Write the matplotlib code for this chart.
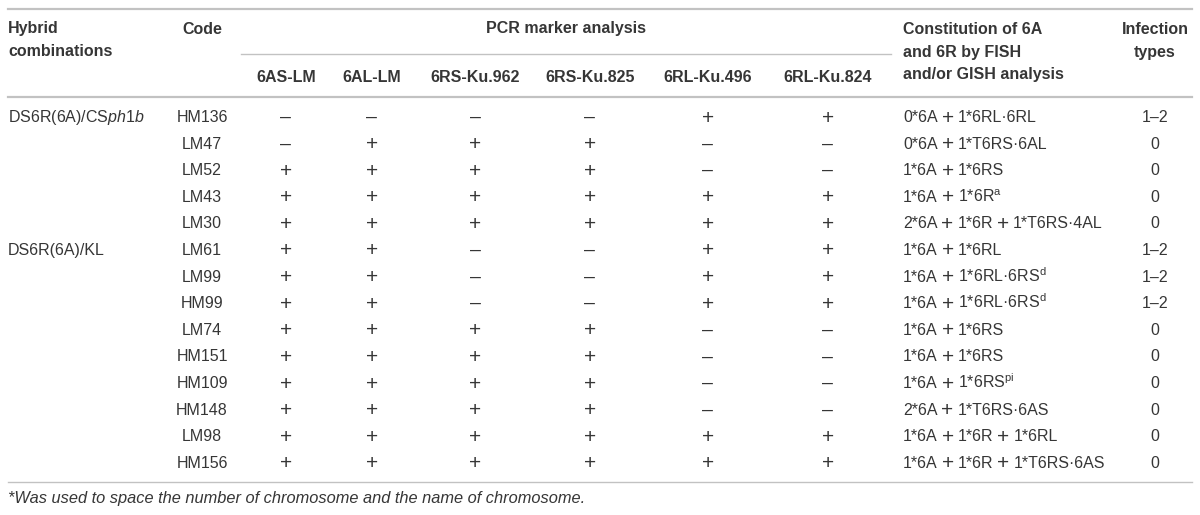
import matplotlib
matplotlib.use("Agg")
import matplotlib.pyplot as plt

plt.rcParams['font.family'] = ['Liberation Sans', 'DejaVu Sans']
plt.rcParams['mathtext.fontset'] = 'custom'
plt.rcParams['mathtext.rm'] = 'Liberation Sans'
plt.rcParams['mathtext.it'] = 'Liberation Sans:italic'

# table contents
markers = ["6AS-LM", "6AL-LM", "6RS-Ku.962", "6RS-Ku.825", "6RL-Ku.496", "6RL-Ku.824"]
combos = {0: "DS6R(6A)/CS$\\mathit{ph1b}$", 5: "DS6R(6A)/KL"}
codes = ["HM136", "LM47", "LM52", "LM43", "LM30", "LM61", "LM99", "HM99",
         "LM74", "HM151", "HM109", "HM148", "LM98", "HM156"]
pcr = ["----++", "-+++--", "++++--", "++++++", "++++++", "++--++", "++--++",
       "++--++", "++++--", "++++--", "++++--", "++++--", "++++++", "++++++"]
constitution = ["0*6A + 1*6RL\u00b76RL", "0*6A + 1*T6RS\u00b76AL", "1*6A + 1*6RS",
                "1*6A + 1*6R$^{\\mathrm{a}}$", "2*6A + 1*6R + 1*T6RS\u00b74AL",
                "1*6A + 1*6RL", "1*6A + 1*6RL\u00b76RS$^{\\mathrm{d}}$",
                "1*6A + 1*6RL\u00b76RS$^{\\mathrm{d}}$", "1*6A + 1*6RS", "1*6A + 1*6RS",
                "1*6A + 1*6RS$^{\\mathrm{pi}}$", "2*6A + 1*T6RS\u00b76AS",
                "1*6A + 1*6R + 1*6RL", "1*6A + 1*6R + 1*T6RS\u00b76AS"]
infection = ["1\u20132", "0", "0", "0", "0", "1\u20132", "1\u20132", "1\u20132",
             "0", "0", "0", "0", "0", "0"]
footnote = "*Was used to space the number of chromosome and the name of chromosome."

txt = "#363636"
rule = "#c2c2c2"
fs = 11.5

fig = plt.figure(figsize=(12, 5.15), dpi=100)
ax = fig.add_axes([0, 0, 1, 1])
ax.set_xlim(0, 1200)
ax.set_ylim(515, 0)
ax.axis("off")
rend = fig.canvas.get_renderer()

marker_x = [286, 372, 475, 590, 708, 828]
code_x = 202
const_x = 903
inf_x = 1155

# rules
ax.plot([8, 1192], [9, 9], color=rule, lw=1.6)
ax.plot([241, 891], [54, 54], color=rule, lw=1.0)
ax.plot([8, 1192], [97, 97], color=rule, lw=1.6)
ax.plot([8, 1192], [482, 482], color=rule, lw=1.0)

# header
hd = dict(color=txt, fontsize=fs, fontweight="bold", va="center")
ax.text(8, 29, "Hybrid", ha="left", **hd)
ax.text(8, 52, "combinations", ha="left", **hd)
ax.text(code_x, 29, "Code", ha="center", **hd)
ax.text(566, 29, "PCR marker analysis", ha="center", **hd)
for x, m in zip(marker_x, markers):
    ax.text(x, 78, m, ha="center", **hd)
ax.text(const_x, 29, "Constitution of 6A", ha="left", **hd)
ax.text(const_x, 52, "and 6R by FISH", ha="left", **hd)
ax.text(const_x, 75, "and/or GISH analysis", ha="left", **hd)
ax.text(inf_x, 29, "Infection", ha="center", **hd)
ax.text(inf_x, 52, "types", ha="center", **hd)

# body (baseline aligned so superscripts do not shift the row)
bd = dict(color=txt, fontsize=fs, va="baseline")
y0, dy = 117, 26.6
base = 5.0
for i, code in enumerate(codes):
    y = y0 + i * dy
    if i in combos:
        ax.text(8, y + base, combos[i], ha="left", **bd)
    ax.text(code_x, y + base, code, ha="center", **bd)
    for x, s in zip(marker_x, pcr[i]):
        if s == "+":
            ax.text(x, y + 1, "+", ha="center", color=txt, fontsize=15,
                    va="center")
        else:
            ax.text(x, y + 0.5, "\u2013", ha="center", color=txt, fontsize=14,
                    va="center")
    # constitution: pieces joined by a larger plus sign
    x = const_x
    for j, part in enumerate(constitution[i].split(" + ")):
        if j > 0:
            t = ax.text(x + 4, y + 1, "+", ha="left", color=txt, fontsize=15,
                        va="center")
            x = t.get_window_extent(rend).x1 + 4
        t = ax.text(x, y + base, part, ha="left", **bd)
        x = t.get_window_extent(rend).x1
    ax.text(inf_x, y + base, infection[i], ha="center", **bd)

ax.text(8, 498, footnote, ha="left", va="center", color=txt, fontsize=11.8,
        style="italic")

fig.savefig("out.png", dpi=100)
